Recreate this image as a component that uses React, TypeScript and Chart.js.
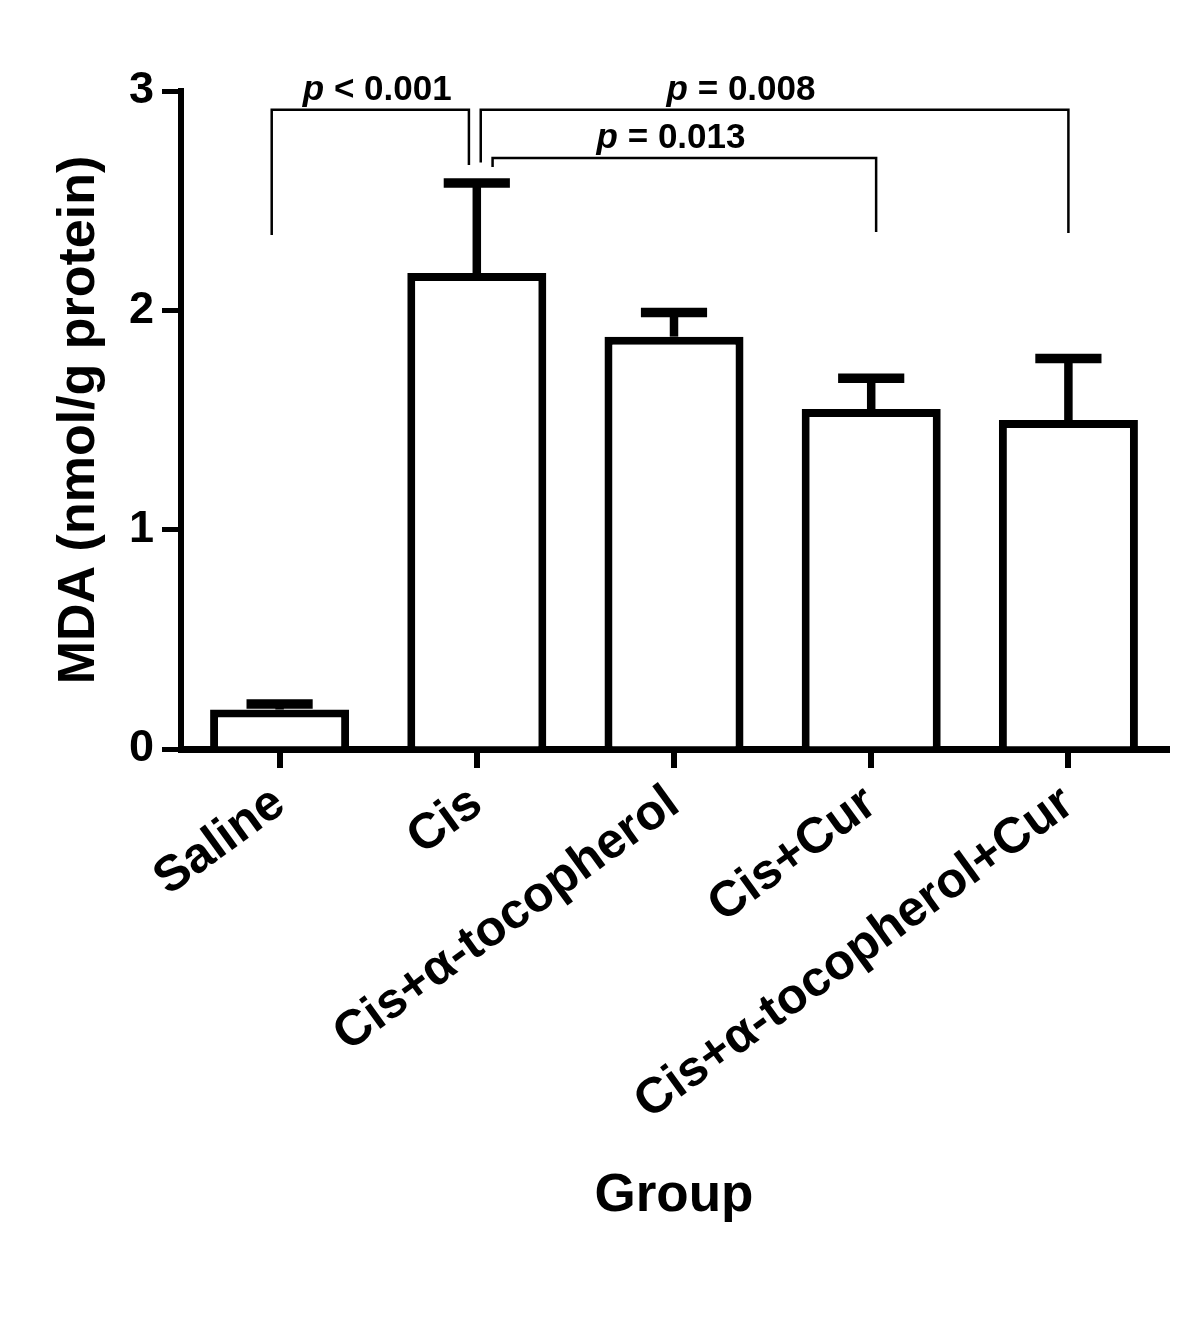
import React, { useEffect, useRef } from "react";
import { Chart, registerables } from "chart.js";

Chart.register(...registerables);

// ---- data ----
const categories = ["Saline", "Cis", "Cis+α-tocopherol", "Cis+Cur", "Cis+α-tocopherol+Cur"];
const meanValues = [0.18, 2.17, 1.88, 1.55, 1.5];
const sdValues = [0.025, 0.41, 0.11, 0.14, 0.28];
const yTicks = [0, 1, 2, 3];
const yTitle = "MDA (nmol/g protein)";
const xTitle = "Group";

// significance brackets (x in category units, y in data units)
const bracketLabels = ["< 0.001", "= 0.008", "= 0.013"];
const bracketFrom = [-0.04, 1.02, 1.08];
const bracketTo = [0.96, 4.0, 3.025];
const bracketLevel = [2.914, 2.914, 2.694];
const bracketFromDrop = [2.344, 2.674, 2.654];
const bracketToDrop = [2.663, 2.353, 2.357];
const bracketLabelX = [0.495, 2.34, 1.985];
const bracketLabelY = [2.96, 2.96, 2.74];

const FONT = "'Liberation Sans', Arial, sans-serif";

const errorBarPlugin = {
  id: "errorBars",
  afterDatasetsDraw(chart: any) {
    const ctx = chart.ctx;
    const meta = chart.getDatasetMeta(0);
    const ys = chart.scales.y;
    meta.data.forEach((bar: any, i: number) => {
      const x = bar.x;
      const top = bar.y;
      const yErr = ys.getPixelForValue(meanValues[i] + sdValues[i]);
      const half = bar.width * 0.238;
      ctx.save();
      ctx.strokeStyle = "#000";
      ctx.lineCap = "butt";
      ctx.lineWidth = 8.5;
      ctx.beginPath();
      ctx.moveTo(x, top);
      ctx.lineTo(x, yErr);
      ctx.stroke();
      ctx.lineWidth = 9.5;
      ctx.beginPath();
      ctx.moveTo(x - half, yErr);
      ctx.lineTo(x + half, yErr);
      ctx.stroke();
      ctx.restore();
    });
  },
};

const bracketPlugin = {
  id: "brackets",
  afterDatasetsDraw(chart: any) {
    const ctx = chart.ctx;
    const xs = chart.scales.x;
    const ys = chart.scales.y;
    ctx.save();
    ctx.strokeStyle = "#000";
    ctx.lineWidth = 2.5;
    ctx.lineCap = "butt";
    ctx.lineJoin = "miter";
    for (let i = 0; i < bracketLabels.length; i++) {
      const x1 = xs.getPixelForValue(bracketFrom[i]);
      const x2 = xs.getPixelForValue(bracketTo[i]);
      const yl = ys.getPixelForValue(bracketLevel[i]);
      const y1 = ys.getPixelForValue(bracketFromDrop[i]);
      const y2 = ys.getPixelForValue(bracketToDrop[i]);
      ctx.beginPath();
      ctx.moveTo(x1, y1);
      ctx.lineTo(x1, yl);
      ctx.lineTo(x2, yl);
      ctx.lineTo(x2, y2);
      ctx.stroke();

      const cx = xs.getPixelForValue(bracketLabelX[i]);
      const by = ys.getPixelForValue(bracketLabelY[i]);
      const italic = `italic bold 35px ${FONT}`;
      const normal = `bold 35px ${FONT}`;
      ctx.font = italic;
      const wp = ctx.measureText("p").width;
      ctx.font = normal;
      const rest = " " + bracketLabels[i];
      const wr = ctx.measureText(rest).width;
      const start = cx - (wp + wr) / 2;
      ctx.fillStyle = "#000";
      ctx.textBaseline = "alphabetic";
      ctx.textAlign = "left";
      ctx.font = italic;
      ctx.fillText("p", start, by);
      ctx.font = normal;
      ctx.fillText(rest, start + wp, by);
    }
    ctx.restore();
  },
};

export default function App() {
  const ref = useRef<HTMLCanvasElement | null>(null);

  useEffect(() => {
    if (!ref.current) return;
    const chart = new Chart(ref.current, {
      type: "bar",
      data: {
        labels: categories,
        datasets: [
          {
            data: meanValues,
            backgroundColor: "#ffffff",
            borderColor: "#000000",
            borderWidth: 8,
            borderSkipped: "start",
            barPercentage: 0.705,
            categoryPercentage: 1,
          },
        ],
      },
      options: {
        responsive: false,
        animation: false,
        devicePixelRatio: 1,
        layout: { padding: { top: 91, right: 33, left: 0, bottom: 0 } },
        plugins: {
          legend: { display: false },
          tooltip: { enabled: false },
        },
        scales: {
          x: {
            type: "category",
            offset: true,
            grid: {
              display: true,
              offset: false,
              drawOnChartArea: false,
              drawTicks: true,
              tickLength: 19,
              lineWidth: 6,
              color: "#000",
            },
            border: { display: true, width: 7, color: "#000" },
            ticks: {
              autoSkip: false,
              minRotation: 36,
              maxRotation: 36,
              padding: 6,
              color: "#000",
              font: { family: FONT, size: 50, weight: "bold" },
            },
            title: {
              display: true,
              text: xTitle,
              color: "#000",
              font: { family: FONT, size: 53, weight: "bold" },
              padding: { top: 0, bottom: 107 },
            },
            afterFit(scale: any) {
              scale.height = 586;
              scale.paddingLeft = 0;
              scale.paddingRight = 0;
            },
          },
          y: {
            min: 0,
            max: 3,
            afterBuildTicks(scale: any) {
              scale.ticks = yTicks.map((v) => ({ value: v }));
            },
            grid: {
              display: true,
              drawOnChartArea: false,
              drawTicks: true,
              tickLength: 19,
              lineWidth: 5,
              color: "#000",
            },
            border: { display: true, width: 6, color: "#000" },
            ticks: {
              padding: 8,
              color: "#000",
              font: { family: FONT, size: 45, weight: "bold" },
            },
            title: {
              display: true,
              text: yTitle,
              color: "#000",
              font: { family: FONT, size: 52, weight: "bold" },
              padding: { top: 48, bottom: 0 },
            },
            afterFit(scale: any) {
              scale.width = 181;
              scale.paddingTop = 0;
              scale.paddingBottom = 0;
            },
          },
        },
      },
      plugins: [errorBarPlugin, bracketPlugin],
    } as any);
    return () => chart.destroy();
  }, []);

  return (
    <div style={{ position: "absolute", left: 0, top: 0, width: 1200, height: 1335, background: "#fff" }}>
      <canvas ref={ref} width={1200} height={1335} style={{ display: "block" }} />
    </div>
  );
}
